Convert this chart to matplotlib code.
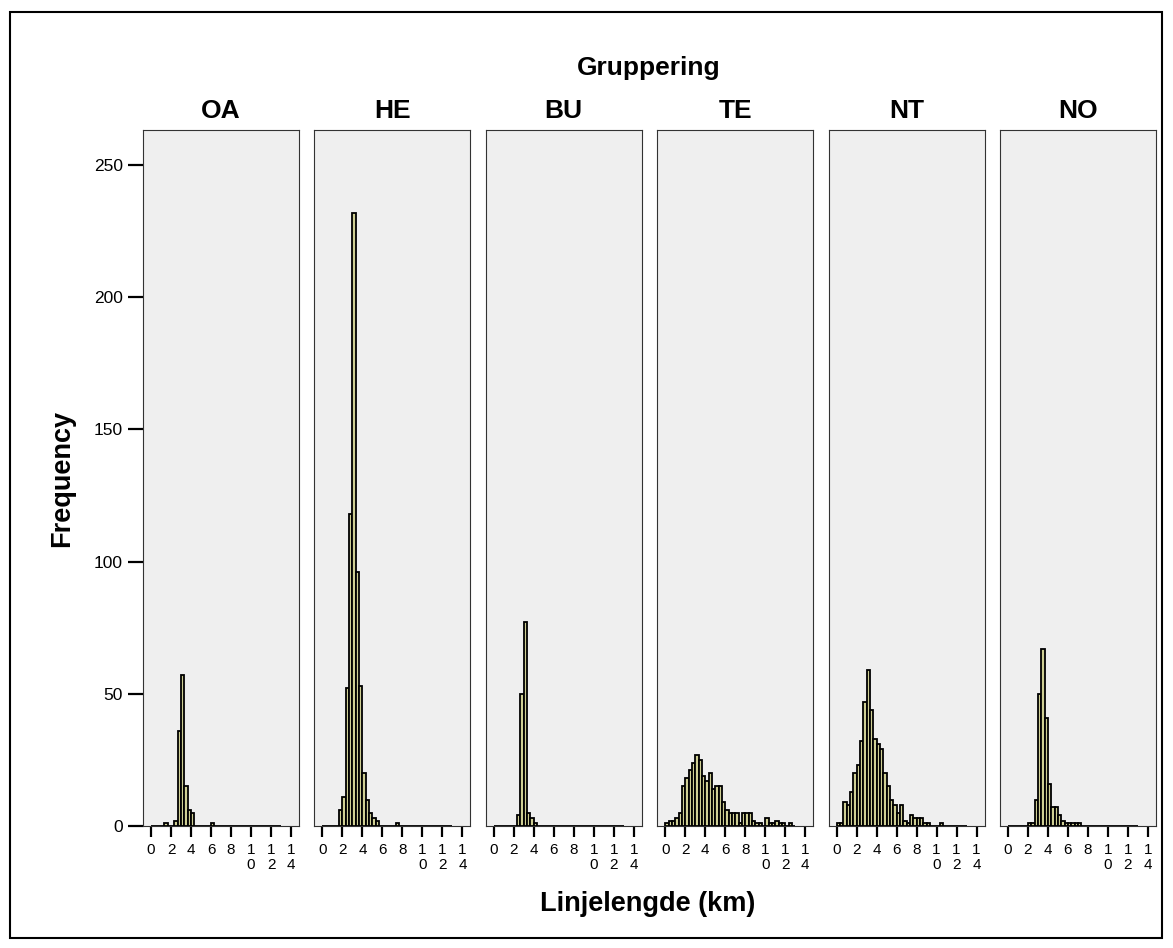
import numpy as np
import matplotlib
matplotlib.use('Agg')
import matplotlib.pyplot as plt
from matplotlib.patches import Rectangle

plt.rcParams['font.family'] = ['Liberation Sans', 'DejaVu Sans']

# ---- data (counts per 1/3-km bin, 0 to 13 km) ----
groups = ['OA', 'HE', 'BU', 'TE', 'NT', 'NO']
OA = [0, 0, 0, 0, 1, 0, 0, 2, 36, 57, 15, 6, 5, 0, 0, 0, 0, 0, 1, 0,
      0, 0, 0, 0, 0, 0, 0, 0, 0, 0, 0, 0, 0, 0, 0, 0, 0, 0, 0]
HE = [0, 0, 0, 0, 0, 6, 11, 52, 118, 232, 96, 53, 20, 10, 5, 3, 2, 0, 0, 0,
      0, 0, 1, 0, 0, 0, 0, 0, 0, 0, 0, 0, 0, 0, 0, 0, 0, 0, 0]
BU = [0, 0, 0, 0, 0, 0, 0, 4, 50, 77, 5, 3, 1, 0, 0, 0, 0, 0, 0, 0,
      0, 0, 0, 0, 0, 0, 0, 0, 0, 0, 0, 0, 0, 0, 0, 0, 0, 0, 0]
TE = [1, 2, 2, 3, 5, 15, 18, 21, 24, 27, 25, 19, 17, 20, 14, 15, 15, 9, 6, 5,
      5, 5, 1, 5, 5, 5, 2, 1, 1, 0, 3, 1, 1, 2, 1, 1, 0, 1, 0]
NT = [1, 1, 9, 8, 13, 20, 23, 32, 47, 59, 44, 33, 31, 29, 20, 15, 10, 8, 5, 8,
      2, 1, 4, 3, 3, 3, 1, 1, 0, 0, 0, 1, 0, 0, 0, 0, 0, 0, 0]
NO = [0, 0, 0, 0, 0, 0, 1, 1, 10, 50, 67, 41, 16, 7, 7, 4, 2, 1, 1, 1,
      1, 1, 0, 0, 0, 0, 0, 0, 0, 0, 0, 0, 0, 0, 0, 0, 0, 0, 0]
counts = [OA, HE, BU, TE, NT, NO]
bin_edges = np.linspace(0, 13, 40)

x_ticks = [0, 2, 4, 6, 8, 10, 12, 14]
x_tick_labels = ['0', '2', '4', '6', '8', '1\n0', '1\n2', '1\n4']
y_ticks = [0, 50, 100, 150, 200, 250]

# ---- figure ----
W, H = 1173, 948
fig = plt.figure(figsize=(W / 100, H / 100), dpi=100)
fig.patch.set_facecolor('white')

lefts = bin_edges[:-1]
width = bin_edges[1] - bin_edges[0]

for i, (g, c) in enumerate(zip(groups, counts)):
    left_px = 143 + i * 171.4
    ax = fig.add_axes([left_px / W, (H - 826) / H, 156 / W, 696 / H])
    ax.set_facecolor('#efefef')
    ax.bar(lefts, c, width=width, align='edge', color='#cfcf94',
           edgecolor='black', linewidth=1.3, zorder=3)
    ax.set_xlim(-0.8, 14.8)
    ax.set_ylim(0, 263.2)
    for s in ax.spines.values():
        s.set_color('#333333')
        s.set_linewidth(0.8)
    ax.set_xticks(x_ticks)
    ax.set_xticklabels(x_tick_labels, fontsize=11, linespacing=1.15)
    ax.tick_params(axis='x', direction='out', length=8, width=1.6, pad=4,
                   color='black')
    if i == 0:
        ax.set_yticks(y_ticks)
        ax.set_yticklabels([str(v) for v in y_ticks], fontsize=12.5)
        ax.tick_params(axis='y', direction='out', length=11, width=1.6,
                       pad=3.5, color='black')
    else:
        ax.set_yticks([])
    fig.text((left_px + 78) / W, 1 - 111 / H, g, ha='center', va='center',
             fontsize=19, fontweight='bold')

fig.text(649 / W, 1 - 68 / H, 'Gruppering', ha='center', va='center',
         fontsize=19, fontweight='bold')
fig.text(648 / W, 1 - 904 / H, 'Linjelengde (km)', ha='center', va='center',
         fontsize=19.5, fontweight='bold')
fig.text(62 / W, 1 - 478 / H, 'Frequency', ha='center', va='center',
         rotation=90, fontsize=19.5, fontweight='bold')

fig.add_artist(Rectangle((10 / W, (H - 938) / H), (1162 - 10) / W,
                         (938 - 12) / H, transform=fig.transFigure,
                         fill=False, lw=1.5, ec='black'))

fig.savefig('out.png', dpi=100)
